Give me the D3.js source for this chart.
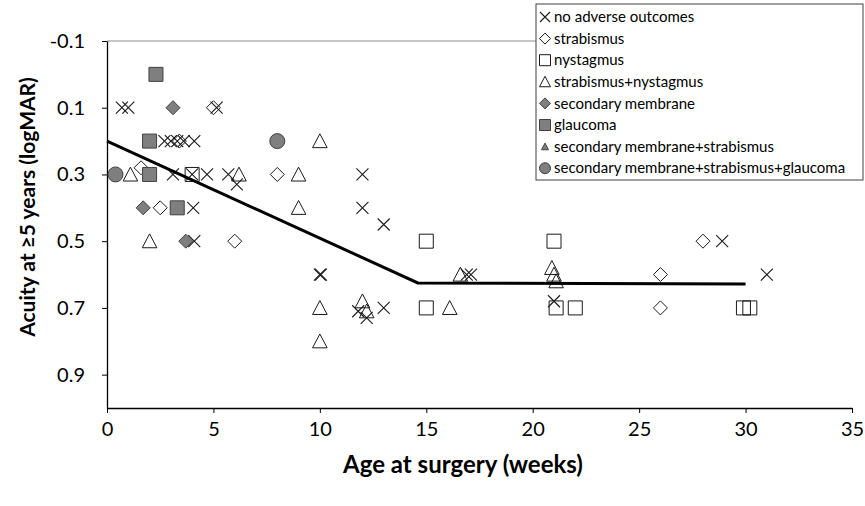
<!DOCTYPE html>
<html>
<head>
<meta charset="utf-8">
<script src="https://cdn.jsdelivr.net/npm/d3@7"></script>
<style>
  body { margin: 0; background: #fff; }
  svg text { font-family: Lato, "Open Sans", sans-serif; fill: #000; }
</style>
</head>
<body>
<svg id="chart" width="865" height="506"></svg>
<script>
// Points: [age at surgery (weeks), acuity (logMAR)]
const noAdverse = [[0.7,0.1],[1.0,0.1],[5.15,0.1],[2.7,0.2],[3.0,0.2],[3.3,0.2],[3.6,0.2],[4.1,0.2],
  [3.1,0.3],[4.0,0.3],[4.7,0.3],[5.7,0.3],[6.1,0.33],[4.05,0.4],[4.1,0.5],[10.0,0.6],[10.05,0.6],
  [12.0,0.3],[12.0,0.4],[13.0,0.45],[11.8,0.71],[12.2,0.73],[13.0,0.7],[16.9,0.6],[17.1,0.6],
  [21.0,0.68],[28.9,0.5],[31.0,0.6]];
const strabismus = [[5.0,0.1],[3.4,0.2],[1.6,0.28],[2.5,0.4],[6.0,0.5],[8.0,0.3],[28.0,0.5],[26.0,0.6],[26.0,0.7]];
const nystagmus = [[4.0,0.3],[15.0,0.5],[15.0,0.7],[21.0,0.5],[21.1,0.7],[22.0,0.7],[29.9,0.7],[30.2,0.7]];
const strabNyst = [[1.1,0.3],[6.2,0.3],[2.0,0.5],[9.0,0.3],[9.0,0.4],[10.0,0.2],[10.0,0.7],[10.0,0.8],
  [12.0,0.68],[12.2,0.71],[16.6,0.6],[16.1,0.7],[20.9,0.58],[21.0,0.6],[21.1,0.62]];
const secMembrane = [[3.1,0.1],[1.7,0.4],[3.7,0.5]];
const glaucoma = [[2.3,0.0],[2.0,0.2],[2.0,0.3],[3.3,0.4]];
const secMemStrab = [];
const secMemStrabGlauc = [[0.4,0.3],[8.0,0.2]];

// Fitted line
const fitWeeks = [0, 14.6, 30];
const fitAcuity = [0.2, 0.625, 0.628];

const xTicks = [0, 5, 10, 15, 20, 25, 30, 35];
const yTicks = [-0.1, 0.1, 0.3, 0.5, 0.7, 0.9];

const SERIES = [
  { name: 'no adverse outcomes', data: noAdverse, shape: 'x' },
  { name: 'strabismus', data: strabismus, shape: 'diamond' },
  { name: 'nystagmus', data: nystagmus, shape: 'square' },
  { name: 'strabismus+nystagmus', data: strabNyst, shape: 'triangle' },
  { name: 'secondary membrane', data: secMembrane, shape: 'diamond', filled: true },
  { name: 'glaucoma', data: glaucoma, shape: 'square', filled: true },
  { name: 'secondary membrane+strabismus', data: secMemStrab, shape: 'triangle', filled: true, small: true },
  { name: 'secondary membrane+strabismus+glaucoma', data: secMemStrabGlauc, shape: 'circle', filled: true }
];

const svg = d3.select('#chart');
const plot = { left: 107, right: 852, top: 41, bottom: 408 };

const x = d3.scaleLinear().domain([0, 35]).range([plot.left, plot.right]);
const y = d3.scaleLinear().domain([-0.1, 1.0]).range([plot.top, plot.bottom]);

// path for a marker of half-size r, centred on 0,0
function markerPath(shape, r) {
  switch (shape) {
    case 'x': return `M${-r},${-r}L${r},${r}M${-r},${r}L${r},${-r}`;
    case 'diamond': return `M0,${-r}L${r},0L0,${r}L${-r},0Z`;
    case 'square': return `M${-r},${-r}H${r}V${r}H${-r}Z`;
    case 'triangle': return `M0,${-r}L${r},${r * 0.9}H${-r}Z`;
    case 'circle': return `M${-r},0A${r},${r} 0 1,0 ${r},0A${r},${r} 0 1,0 ${-r},0Z`;
  }
}

function styleMarker(sel, s) {
  sel.attr('fill', s.filled ? '#7f7f7f' : 'none')
     .attr('stroke', s.filled ? '#404040' : '#1a1a1a')
     .attr('stroke-width', s.shape === 'x' ? 1.1 : 1);
}

const MARKER_R = { x: 6, diamond: 7, square: 7, triangle: 7.3, circle: 7.5 };

// top border of the plot area
svg.append('line')
  .attr('x1', plot.left).attr('x2', plot.right)
  .attr('y1', plot.top).attr('y2', plot.top)
  .attr('stroke', '#8c8c8c').attr('stroke-width', 1);

// axes
const xAxis = d3.axisBottom(x).tickValues(xTicks).tickSize(5).tickSizeOuter(0).tickFormat(d => String(d));
const gx = svg.append('g').attr('transform', `translate(0,${plot.bottom})`).call(xAxis);
gx.selectAll('text').attr('font-size', 20).attr('dy', '1.0em');

const yAxis = d3.axisLeft(y).tickValues(yTicks).tickSize(5).tickSizeOuter(0)
  .tickFormat(d => d.toFixed(1));
const gy = svg.append('g').attr('transform', `translate(${plot.left},0)`).call(yAxis);
gy.selectAll('text').attr('font-size', 20).attr('x', -22);

svg.selectAll('.domain').attr('stroke', '#000').attr('stroke-width', 1.3);
svg.selectAll('.tick line').attr('stroke', '#000');

// markers
SERIES.forEach(s => {
  const r = s.small ? 4 : MARKER_R[s.shape];
  svg.append('g').selectAll('path').data(s.data).join('path')
    .attr('transform', d => `translate(${x(d[0])},${y(d[1])})`)
    .attr('d', markerPath(s.shape, r))
    .call(styleMarker, s);
});

// fitted line
const line = d3.line().x(d => x(d[0])).y(d => y(d[1]));
svg.append('path')
  .datum(fitWeeks.map((w, i) => [w, fitAcuity[i]]))
  .attr('d', line)
  .attr('fill', 'none').attr('stroke', '#000').attr('stroke-width', 3);

// axis titles
svg.append('text')
  .attr('x', 463).attr('y', 473)
  .attr('text-anchor', 'middle').attr('font-size', 24).attr('font-weight', 'bold')
  .text('Age at surgery (weeks)');
svg.append('text')
  .attr('transform', 'translate(35,207) rotate(-90)')
  .attr('text-anchor', 'middle').attr('font-size', 21).attr('font-weight', 'bold')
  .text('Acuity at \u22655 years (logMAR)');

// legend
const legend = svg.append('g').attr('transform', 'translate(536,4)');
legend.append('rect')
  .attr('x', 0).attr('y', 0).attr('width', 327).attr('height', 176)
  .attr('fill', '#fff').attr('stroke', '#404040').attr('stroke-width', 1);
SERIES.forEach((s, i) => {
  const row = legend.append('g').attr('transform', `translate(0,${13 + i * 21.6})`);
  const r = s.small ? 3.5 : (s.shape === 'x' ? 5 : 5.5);
  row.append('path')
    .attr('transform', 'translate(9,0)')
    .attr('d', markerPath(s.shape, r))
    .call(styleMarker, s);
  row.append('text')
    .attr('x', 18).attr('dy', '0.35em').attr('font-size', 15)
    .text(s.name);
});
</script>
</body>
</html>
